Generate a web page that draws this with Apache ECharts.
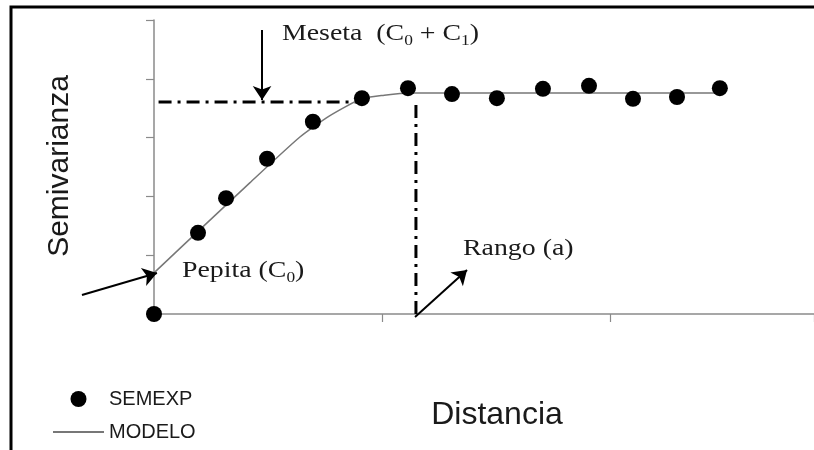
<!DOCTYPE html>
<html>
<head>
<meta charset="utf-8">
<script src="https://cdn.jsdelivr.net/npm/echarts@6/dist/echarts.min.js"></script>
<style>html,body{margin:0;padding:0;background:#fff}#c{width:814px;height:450px}</style>
</head>
<body>
<div id="c"></div>
<script>
// Experimental semivariogram points (distance, semivariance)
const distSemexp = [0, 0.193, 0.316, 0.496, 0.697, 0.912, 1.114, 1.307, 1.504, 1.706, 1.908, 2.101, 2.294, 2.482];
const semivarSemexp = [0, 1.38, 1.97, 2.64, 3.27, 3.67, 3.84, 3.74, 3.67, 3.83, 3.88, 3.66, 3.69, 3.84];
// Fitted model curve
const distModelo = [0, 0.20, 0.42, 0.64, 0.77, 0.91, 1.01, 1.12, 2.48];
const semivarModelo = [0.70, 1.43, 2.23, 3.01, 3.37, 3.66, 3.72, 3.76, 3.76];
// Guide lines (dash-dot)
const mesetaGuideX = [0.02, 0.90];
const mesetaGuideY = 3.605;
const rangoGuideX = 1.149;
const rangoGuideY = [0, 3.59];
// Annotation arrows [from, to]
const arrowMeseta = [[0.474, 4.83], [0.474, 3.64]];
const arrowPepita = [[-0.316, 0.323], [0.013, 0.697]];
const arrowRango = [[1.145, -0.051], [1.373, 0.748]];
// Axis extents
const yMax = 5, xMax = 2.895;
const seriesNames = ['SEMEXP', 'MODELO'];

const chart = echarts.init(document.getElementById('c'), null, {renderer: 'canvas'});
const zip = (a, b) => a.map((v, i) => [v, b[i]]);
const dashDot = [13, 6, 3, 6];
const serif = '"Liberation Serif", "Times New Roman", serif';
const sans = '"Liberation Sans", Arial, sans-serif';
const sx = 1.16;

const option = {
  animation: false,
  backgroundColor: '#fff',
  grid: {left: 154, right: 0, top: 20, bottom: 136, containLabel: false},
  xAxis: {
    type: 'value', min: 0, max: xMax, interval: 1,
    axisLine: {show: true, lineStyle: {color: '#8a8a8a', width: 1.5}},
    axisTick: {show: true, length: 8, lineStyle: {color: '#8a8a8a', width: 1.2}},
    axisLabel: {show: false}, splitLine: {show: false}
  },
  yAxis: {
    type: 'value', min: 0, max: yMax, interval: 1,
    axisLine: {show: true, lineStyle: {color: '#8a8a8a', width: 1.5}},
    axisTick: {show: true, length: 8, lineStyle: {color: '#8a8a8a', width: 1.2}},
    axisLabel: {show: false}, splitLine: {show: false}
  },
  legend: {
    data: [
      {name: seriesNames[0], icon: 'circle'},
      {name: seriesNames[1], itemStyle: {opacity: 0}}
    ],
    orient: 'vertical', left: 52, top: 389, padding: 0,
    itemWidth: 51, itemHeight: 16, itemGap: 13,
    textStyle: {fontFamily: sans, fontSize: 20, color: '#1a1a1a'},
    selectedMode: false
  },
  series: [
    {
      name: 'MODELO', type: 'line', data: zip(distModelo, semivarModelo),
      showSymbol: false, symbol: 'none', smooth: 0.2,
      lineStyle: {color: '#777', width: 1.5}, itemStyle: {color: '#777'}, z: 2
    },
    {
      name: 'meseta-guide', type: 'line', data: mesetaGuideX.map(x => [x, mesetaGuideY]),
      symbol: 'none', lineStyle: {color: '#000', width: 3, type: dashDot}, z: 1
    },
    {
      name: 'rango-guide', type: 'line', data: rangoGuideY.map(y => [rangoGuideX, y]),
      symbol: 'none', lineStyle: {color: '#000', width: 3, type: dashDot}, z: 1
    },
    {
      name: 'arrows', type: 'lines', coordinateSystem: 'cartesian2d', clip: false,
      symbol: ['none', 'arrow'], symbolSize: 14,
      lineStyle: {color: '#000', width: 2, opacity: 1},
      data: [arrowMeseta, arrowPepita, arrowRango].map(c => ({coords: c})), z: 3
    },
    {
      name: 'SEMEXP', type: 'scatter', data: zip(distSemexp, semivarSemexp),
      symbol: 'circle', symbolSize: 16, itemStyle: {color: '#000', opacity: 1}, z: 4
    }
  ],
  graphic: [
    {type: 'rect', shape: {x: 11, y: 7, width: 1000, height: 1000}, style: {fill: 'none', stroke: '#000', lineWidth: 3}, silent: true},
    {type: 'text', x: 282, y: 34, scaleX: sx, style: {
      text: 'Meseta  (C{s|0} + C{s|1})', font: '24px ' + serif, fill: '#1a1a1a',
      textAlign: 'left', textVerticalAlign: 'middle',
      rich: {s: {fontSize: 15, fontFamily: serif, fill: '#1a1a1a', padding: [14, 0, 0, 0]}}
    }},
    {type: 'text', x: 182, y: 271, scaleX: sx, style: {
      text: 'Pepita (C{s|0})', font: '24px ' + serif, fill: '#1a1a1a',
      textAlign: 'left', textVerticalAlign: 'middle',
      rich: {s: {fontSize: 15, fontFamily: serif, fill: '#1a1a1a', padding: [14, 0, 0, 0]}}
    }},
    {type: 'text', x: 463, y: 249, scaleX: sx, style: {
      text: 'Rango (a)', font: '24px ' + serif, fill: '#1a1a1a',
      textAlign: 'left', textVerticalAlign: 'middle'
    }},
    {type: 'text', x: 60, y: 166, rotation: Math.PI / 2, style: {
      text: 'Semivarianza', font: '30px ' + sans, fill: '#1a1a1a',
      textAlign: 'center', textVerticalAlign: 'middle'
    }},
    {type: 'text', x: 497, y: 415, style: {
      text: 'Distancia', font: '32px ' + sans, fill: '#1a1a1a',
      textAlign: 'center', textVerticalAlign: 'middle'
    }}
  ]
};
chart.setOption(option);
</script>
</body>
</html>
